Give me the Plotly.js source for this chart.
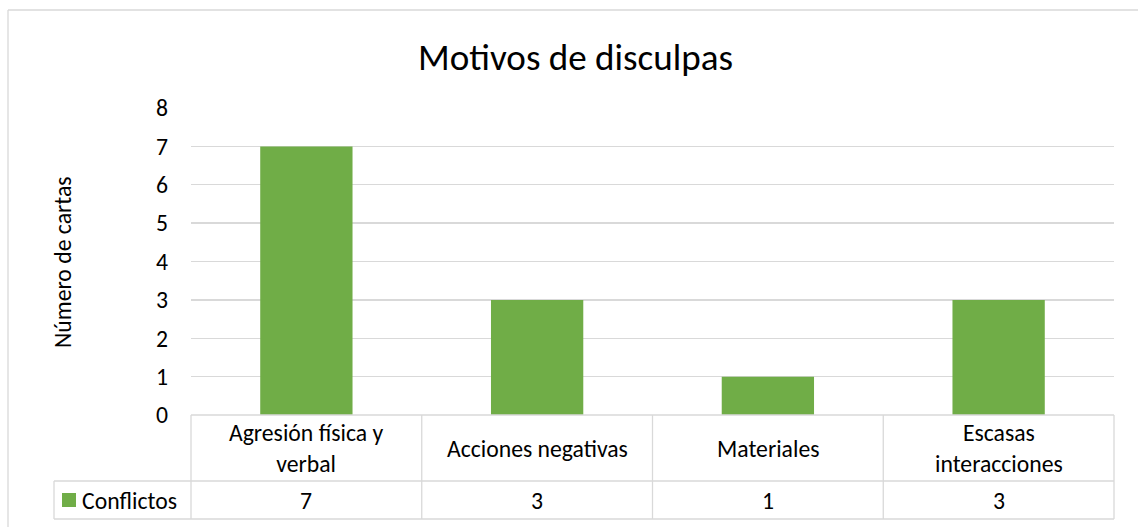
<!DOCTYPE html>
<html>
<head>
<meta charset="utf-8">
<script src="https://cdn.plot.ly/plotly-3.0.1.min.js"></script>
<style>html,body{margin:0;padding:0;background:#fff;}#chart{width:1138px;height:527px;}</style>
</head>
<body>
<div id="chart"></div>
<script>
// ---- data ----
const chartTitle = "Motivos de disculpas";
const yAxisTitle = "Número de cartas";
const seriesName = "Conflictos";
const categories = ["Agresión física y verbal", "Acciones negativas", "Materiales", "Escasas interacciones"];
const categoryLabels = ["Agresión física y<br>verbal", "Acciones negativas", "Materiales", "Escasas<br>interacciones"];
const values = [7, 3, 1, 3];
const yTicks = [0, 1, 2, 3, 4, 5, 6, 7, 8];

// ---- fonts ----
const ctx = document.createElement('canvas').getContext('2d');
function hasFont(f) {
  const t = 'Motivos de disculpas';
  ctx.font = '40px monospace'; const a = ctx.measureText(t).width;
  ctx.font = '40px "' + f + '", monospace'; return ctx.measureText(t).width !== a;
}
const family = hasFont('Carlito') ? 'Carlito' : (hasFont('Calibri') ? 'Calibri' : 'Lato');
function fit(text, target) { ctx.font = '100px "' + family + '"'; return 100 * target / ctx.measureText(text).width; }
const titleSize = fit(chartTitle, 315);
const bodySize = fit(seriesName, 95);
const textColor = '#000000';
const lineColor = '#d9d9d9';
const barColor = '#70ad47';

// ---- geometry helpers (pixel -> paper) ----
const W = 1138, H = 527;
const L = 191, R = 1114, T = 108, B = 415;
const px = x => (x - L) / (R - L);
const py = y => (B - y) / (B - T);

const shapes = [];
const line = (x0, y0, x1, y1, xref) => shapes.push({type: 'line', xref: xref || 'paper', yref: 'paper', x0, y0, x1, y1, line: {color: lineColor, width: 1.3}, layer: 'above'});
// outer frame (left and top)
line(px(8), py(10), px(8), py(H + 5));
line(px(8), py(10), px(W + 5), py(10));
// data table
line(0, 0, 1, 0);
line(px(54), py(481), 1, py(481));
line(px(54), py(519), 1, py(519));
line(0, 0, 0, py(519));
line(px(54), py(481), px(54), py(519));
line(1, 0, 1, py(519));
for (let i = 0; i < categories.length - 1; i++) line(i + 0.5, 0, i + 0.5, py(519), 'x');
// legend key
shapes.push({type: 'rect', xref: 'paper', yref: 'paper', x0: px(62), x1: px(76), y0: py(507), y1: py(493), fillcolor: barColor, line: {width: 0}});

const annotations = [];
categories.forEach((c, i) => {
  annotations.push({xref: 'x', yref: 'paper', x: i, y: py(448), text: categoryLabels[i], showarrow: false, xanchor: 'center', yanchor: 'middle', font: {family, size: bodySize, color: textColor}});
  annotations.push({xref: 'x', yref: 'paper', x: i, y: py(500), text: String(values[i]), showarrow: false, xanchor: 'center', yanchor: 'middle', font: {family, size: bodySize, color: textColor}});
});
annotations.push({xref: 'paper', yref: 'paper', x: px(80), y: py(500), text: seriesName, showarrow: false, xanchor: 'left', yanchor: 'middle', font: {family, size: bodySize, color: textColor}});
annotations.push({xref: 'paper', yref: 'paper', x: px(62), y: py(262), text: yAxisTitle, textangle: -90, showarrow: false, xanchor: 'center', yanchor: 'middle', font: {family, size: bodySize, color: textColor}});

const data = [{
  type: 'bar', x: categories, y: values, name: seriesName,
  marker: {color: barColor}, hoverinfo: 'x+y'
}];

const layout = {
  width: W, height: H,
  margin: {l: L, r: W - R, t: T, b: H - B, pad: 0},
  paper_bgcolor: '#ffffff', plot_bgcolor: '#ffffff',
  showlegend: false,
  bargap: 0.6,
  title: {text: chartTitle, x: 575.5 / W, xref: 'container', xanchor: 'center', y: 1 - 57 / H, yref: 'container', yanchor: 'middle', font: {family, size: titleSize, color: textColor}},
  xaxis: {type: 'category', range: [-0.5, categories.length - 0.5], showticklabels: false, showgrid: false, zeroline: false, showline: false, ticks: '', fixedrange: true},
  yaxis: {range: [0, 8], tickvals: yTicks, ticktext: yTicks.map(String), showgrid: true, gridcolor: lineColor, gridwidth: 1.3, zeroline: false, showline: false, ticks: '', ticklabelstandoff: 22, tickfont: {family, size: bodySize, color: textColor}, fixedrange: true},
  shapes, annotations
};

Plotly.newPlot('chart', data, layout, {displayModeBar: false, staticPlot: true});
</script>
</body>
</html>
